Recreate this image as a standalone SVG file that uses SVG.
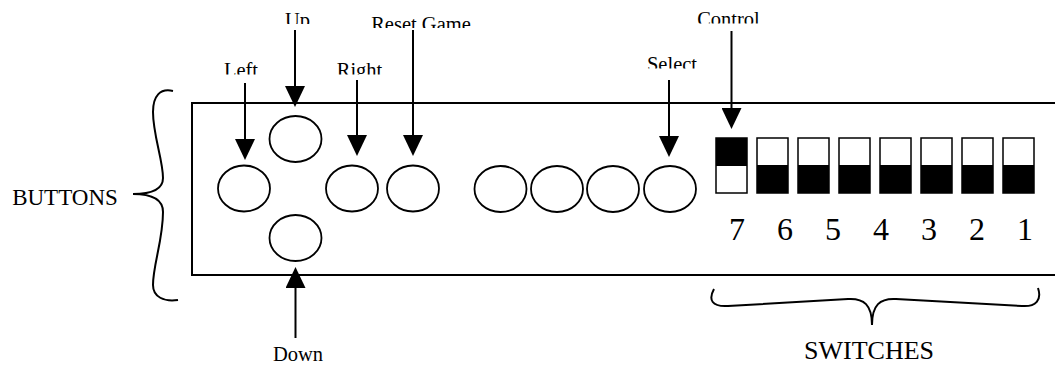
<svg xmlns="http://www.w3.org/2000/svg" width="1055" height="366" viewBox="0 0 1055 366">
<style>
.lbl{font-family:"Liberation Serif","Times New Roman",serif;font-size:20.5px;fill:#000;text-anchor:middle}
.big{font-family:"Liberation Serif","Times New Roman",serif;fill:#000;text-anchor:middle}
.btn{fill:#fff;stroke:#000;stroke-width:1.8}
.sw{fill:#fff;stroke:#000;stroke-width:1.5}
.blk{fill:#000}
.conn{stroke:#000;stroke-width:2;fill:none;marker-end:url(#ah)}
.brace{stroke:#000;stroke-width:2;fill:none}
</style>
<defs>
<marker id="ah" markerUnits="userSpaceOnUse" markerWidth="21" markerHeight="20" refX="16" refY="10" orient="auto">
<path d="M0,0 L21,10 L0,20 z" fill="#000"/>
</marker>
<clipPath id="cUp" clipPathUnits="userSpaceOnUse"><rect x="250" y="0" width="100" height="24"/></clipPath>
<clipPath id="cReset" clipPathUnits="userSpaceOnUse"><rect x="350" y="0" width="150" height="28"/></clipPath>
<clipPath id="cLeft" clipPathUnits="userSpaceOnUse"><rect x="200" y="40" width="80" height="34.5"/></clipPath>
<clipPath id="cRight" clipPathUnits="userSpaceOnUse"><rect x="320" y="40" width="80" height="34.5"/></clipPath>
<clipPath id="cSelect" clipPathUnits="userSpaceOnUse"><rect x="630" y="40" width="90" height="28.5"/></clipPath>
<clipPath id="cControl" clipPathUnits="userSpaceOnUse"><rect x="680" y="0" width="100" height="23.5"/></clipPath>
</defs>

<g id="panel">
<rect x="192" y="103" width="900" height="172" fill="none" stroke="#000" stroke-width="2"/>
</g>

<g id="btn-left"><ellipse class="btn" cx="244" cy="188.5" rx="26" ry="23"/></g>
<g id="btn-up"><ellipse class="btn" cx="295.5" cy="139" rx="26" ry="23"/></g>
<g id="btn-down"><ellipse class="btn" cx="295.5" cy="238" rx="26" ry="23"/></g>
<g id="btn-right"><ellipse class="btn" cx="352" cy="188.5" rx="26" ry="23"/></g>
<g id="btn-reset"><ellipse class="btn" cx="413" cy="188.5" rx="26" ry="23"/></g>
<g id="btn-a"><ellipse class="btn" cx="500.5" cy="189" rx="26" ry="23"/></g>
<g id="btn-b"><ellipse class="btn" cx="557" cy="189" rx="26" ry="23"/></g>
<g id="btn-c"><ellipse class="btn" cx="613" cy="189" rx="26" ry="23"/></g>
<g id="btn-select"><ellipse class="btn" cx="670" cy="189" rx="26" ry="23"/></g>

<g id="switch-7"><rect class="sw" x="716" y="138" width="31" height="55"/><rect class="blk" x="716" y="138" width="31" height="28"/></g>
<g id="switch-6"><rect class="sw" x="757" y="138" width="31" height="55"/><rect class="blk" x="757" y="165" width="31" height="28"/></g>
<g id="switch-5"><rect class="sw" x="798" y="138" width="31" height="55"/><rect class="blk" x="798" y="165" width="31" height="28"/></g>
<g id="switch-4"><rect class="sw" x="839" y="138" width="31" height="55"/><rect class="blk" x="839" y="165" width="31" height="28"/></g>
<g id="switch-3"><rect class="sw" x="880" y="138" width="31" height="55"/><rect class="blk" x="880" y="165" width="31" height="28"/></g>
<g id="switch-2"><rect class="sw" x="921" y="138" width="31" height="55"/><rect class="blk" x="921" y="165" width="31" height="28"/></g>
<g id="switch-1"><rect class="sw" x="962" y="138" width="31" height="55"/><rect class="blk" x="962" y="165" width="31" height="28"/></g>
<g id="switch-0"><rect class="sw" x="1003" y="138" width="31" height="55"/><rect class="blk" x="1003" y="165" width="31" height="28"/></g>

<g id="switch-numbers" class="big" font-size="32">
<text x="737" y="240">7</text>
<text x="785" y="240">6</text>
<text x="833" y="240">5</text>
<text x="881" y="240">4</text>
<text x="929" y="240">3</text>
<text x="977" y="240">2</text>
<text x="1025" y="240">1</text>
</g>

<g id="labels">
<text class="lbl" x="297.5" y="26.5" clip-path="url(#cUp)">Up</text>
<text class="lbl" x="421" y="31" clip-path="url(#cReset)">Reset Game</text>
<text class="lbl" x="241" y="77" clip-path="url(#cLeft)">Left</text>
<text class="lbl" x="359.5" y="77" clip-path="url(#cRight)">Right</text>
<text class="lbl" x="672" y="71" clip-path="url(#cSelect)">Select</text>
<text class="lbl" x="728.5" y="25.5" clip-path="url(#cControl)">Control</text>
<text class="lbl" x="298" y="361">Down</text>
<text class="big" font-size="23" x="65" y="205">BUTTONS</text>
<text class="big" font-size="26" x="869" y="359">SWITCHES</text>
</g>

<g id="braces">
<path class="brace" d="M173,91 C160,88 153,96 153,112 C153,135 163,160 163,178 C163,189 152,194 133,194 C152,194 163,199 163,212 C163,240 153,265 153,285 C153,297 164,302 178,300"/>
<path class="brace" d="M714,289 C708,300 712,307 728,306 L848,299 C864,298 872,305 872,325 C872,305 880,298 896,299 L1022,306 C1036,307 1042,300 1038,288"/>
</g>

<g id="connectors">
<line class="conn" x1="245" y1="83" x2="245" y2="155"/>
<line class="conn" x1="295" y1="30" x2="295" y2="102"/>
<line class="conn" x1="357" y1="80" x2="357" y2="151"/>
<line class="conn" x1="413" y1="30" x2="413" y2="151"/>
<line class="conn" x1="669" y1="80" x2="669" y2="152"/>
<line class="conn" x1="731.5" y1="31" x2="731.5" y2="124"/>
<line class="conn" x1="295.5" y1="338" x2="295.5" y2="272"/>
</g>
</svg>
